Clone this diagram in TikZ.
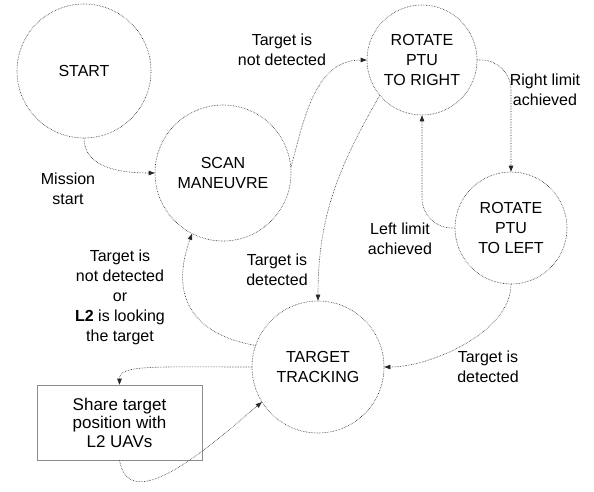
\documentclass[tikz,border=0pt]{standalone}
\usepackage{fontspec}
\setmainfont{Liberation Sans}
\usetikzlibrary{arrows.meta}

\begin{document}
\begin{tikzpicture}[x=1pt,y=1pt,
    state/.style={circle,draw=black!85,densely dotted,line width=0.6pt,align=center,inner sep=0pt,font=\fontsize{16}{20}\selectfont},
    lbl/.style={align=center,font=\fontsize{16}{20}\selectfont},
    trans/.style={draw=black!85,densely dotted,line width=0.6pt,-{Triangle[length=6pt,width=4.5pt]}}]
        \useasboundingbox (0,0) rectangle (594,491);
        \node[state,minimum size=134pt] (start) at (84,420) {START};
        \node[state,minimum size=136pt] (scan) at (223,318) {SCAN\\MANEUVRE};
        \node[state,minimum size=110pt] (right) at (422,431) {ROTATE\\PTU\\TO RIGHT};
        \node[state,minimum size=112pt] (left) at (511,263) {ROTATE\\PTU\\TO LEFT};
        \node[state,minimum size=132pt] (track) at (318,124) {TARGET\\TRACKING};
        \node[draw=black!45,line width=0.6pt,minimum width=165pt,minimum height=75pt,align=center,font=\fontsize{17}{18.5}\selectfont] (share) at (119.5,68.5) {Share target\\position with\\L2 UAVs};
        \node[lbl] (lNotDet) at (282,441) {Target is\\not detected};
        \node[lbl] (lMission) at (68,302) {Mission\\start};
        \node[lbl] (lRight) at (545,401) {Right limit\\achieved};
        \node[lbl] (lLeft) at (400,252) {Left limit\\achieved};
        \node[lbl] (lDetA) at (277,221) {Target is\\detected};
        \node[lbl] (lDetB) at (488,124) {Target is\\detected};
        \node[lbl] (lLost) at (120,194) {Target is\\not detected\\or\\\textbf{L2} is looking\\the target};
        \draw[trans] (start.south) to[out=-90,in=180] (scan.west);
        \draw[trans] (scan.5) to[out=75,in=180] (right.west);
        \draw[trans,rounded corners=30pt] (right.east) -| (left.north);
        \draw[trans,rounded corners=30pt] (left.west) -| (right.south);
        \draw[trans] (right.220) to[out=240,in=90] (track.north);
        \draw[trans] (left.south) to[out=-90,in=0,looseness=0.8] (track.east);
        \draw[trans] (track.161) to[out=170,in=250,looseness=1.3] (scan.243);
        \draw[trans] (track.west) .. controls +(-100,0) and +(0,20) .. (share.north);
        \draw[trans] (share.south) to[out=-80,in=220] (track.212);
    \end{tikzpicture}
\end{document}
